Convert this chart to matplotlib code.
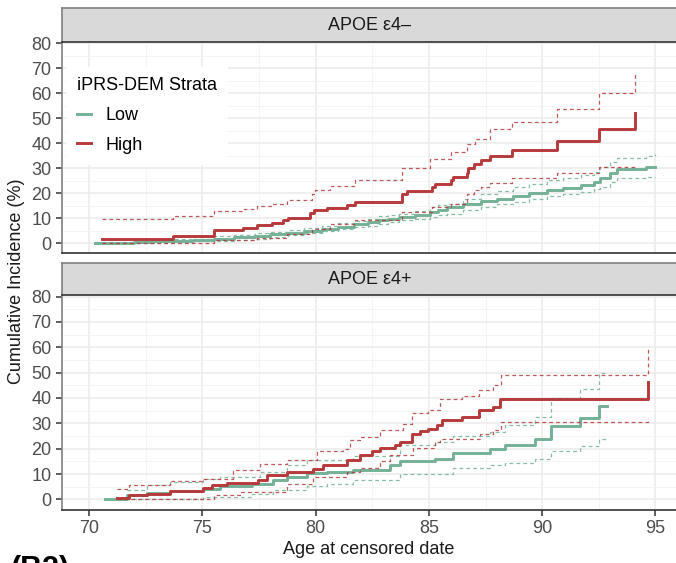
import matplotlib
matplotlib.use("Agg")
import matplotlib.pyplot as plt
from matplotlib.ticker import MultipleLocator

plt.rcParams['font.family'] = ['Liberation Sans', 'DejaVu Sans']

# ---- data: APOE e4- panel ----
top_low_age = [70.26, 71.0, 72.0, 72.8, 73.7, 74.6, 75.5, 76.4, 77.3, 78.0, 78.8, 79.5,
               80.3, 81.0, 81.7, 82.3, 82.8, 83.2, 83.7, 84.4, 85.05, 85.4, 85.8, 86.5,
               87.3, 88.0, 88.7, 89.4, 90.2, 90.9, 91.7, 92.3, 92.55, 93.0, 93.3, 94.6, 95.0]
top_low = [0, 0.2, 0.5, 0.7, 1.0, 1.4, 1.8, 2.3, 2.8, 3.5, 4.2, 5.0,
           5.8, 6.6, 7.5, 8.3, 9.1, 9.7, 10.4, 11.3, 12.5, 13.4, 14.5, 15.5,
           16.7, 17.6, 18.8, 19.9, 21.2, 22.2, 23.2, 24.5, 25.9, 27.9, 29.6, 30.5, 30.5]
top_low_hi = [0.3, 0.6, 1.0, 1.4, 1.8, 2.3, 2.8, 3.3, 3.9, 4.6, 5.3, 6.1,
              7.0, 7.9, 8.8, 9.8, 10.7, 11.2, 11.8, 13.0, 14.5, 15.1, 15.8, 17.7,
              19.8, 21.0, 22.5, 23.8, 25.2, 26.0, 27.2, 28.5, 30.5, 32.5, 33.9, 35.0, 35.5]
top_low_lo = [0, 0, 0.1, 0.2, 0.4, 0.7, 1.0, 1.4, 1.8, 2.5, 3.2, 4.0,
              4.8, 5.5, 6.3, 7.0, 7.8, 8.4, 9.1, 9.7, 10.4, 11.1, 11.8, 13.1,
              14.5, 15.5, 16.5, 17.6, 18.8, 19.5, 20.5, 21.5, 22.5, 24.5, 25.9, 26.3, 26.3]

top_high_age = [70.56, 73.72, 75.52, 76.81, 77.4, 78.06, 78.57, 78.8, 79.75, 79.93, 80.49,
                81.37, 81.74, 83.8, 84.02, 85.12, 85.27, 85.96, 86.08, 86.7, 86.74, 87.0,
                87.29, 87.7, 88.68, 90.67, 92.52, 94.1]
top_high = [1.5, 2.8, 5.1, 6.2, 7.1, 8.0, 9.1, 10.0, 12.0, 13.1, 14.2,
            15.4, 16.5, 19.6, 20.9, 22.5, 23.8, 25.2, 26.5, 28.1, 29.9, 31.5,
            33.2, 34.9, 37.2, 41.0, 45.9, 52.0]
top_high_hi_age = [70.56, 73.72, 75.52, 76.81, 77.4, 78.06, 78.72, 79.83, 79.97, 80.64, 81.74,
                   83.8, 85.05, 85.96, 86.7, 87.03, 87.7, 88.68, 90.67, 92.52, 94.1]
top_high_hi = [9.7, 10.7, 12.9, 13.8, 14.7, 15.8, 17.4, 19.8, 21.4, 22.8, 25.2,
               29.9, 33.5, 36.6, 39.9, 41.9, 45.9, 48.6, 53.6, 60.2, 67.6]
top_high_lo_age = [70.56, 75.52, 77.4, 78.72, 79.83, 80.64, 81.74, 83.8, 85.12, 85.96, 86.7,
                   87.0, 87.29, 87.7, 88.68, 90.67, 92.52, 94.1]
top_high_lo = [0, 1.1, 2.0, 3.8, 5.8, 7.8, 9.1, 12.5, 14.5, 15.8, 19.8,
               21.2, 22.5, 24.1, 25.9, 28.1, 30.5, 30.5]

# ---- data: APOE e4+ panel ----
bot_low_age = [70.71, 71.66, 72.55, 73.57, 75.04, 75.78, 77.18, 78.13, 78.72, 79.6, 80.49,
               81.66, 83.27, 83.72, 85.27, 86.08, 87.7, 88.36, 89.68, 90.37, 91.67, 92.51, 92.85]
bot_low = [0, 1.6, 2.5, 3.3, 4.2, 5.1, 6.2, 7.5, 8.8, 10.2, 10.8,
           11.7, 13.4, 15.1, 16.1, 18.3, 19.8, 21.6, 23.7, 29.0, 32.1, 36.8, 36.8]
bot_low_hi_age = [71.66, 72.55, 73.57, 75.04, 75.78, 77.55, 78.72, 79.6, 81.66, 83.72, 85.27,
                  86.08, 87.7, 88.36, 89.68, 90.37, 91.67, 92.51, 92.85]
bot_low_hi = [3.6, 5.5, 6.8, 7.9, 8.8, 10.8, 13.4, 15.4, 17.0, 21.3, 22.6,
              24.9, 26.6, 29.2, 32.3, 39.8, 43.4, 49.7, 49.7]
bot_low_lo_age = [70.71, 75.04, 77.18, 78.13, 79.6, 80.49, 81.66, 82.84, 83.72, 86.08, 87.7,
                  88.36, 89.68, 90.37, 91.67, 92.51, 92.85]
bot_low_lo = [0, 0.9, 2.3, 3.6, 5.1, 5.9, 7.5, 7.8, 10.1, 12.5, 13.6,
              14.3, 16.1, 19.1, 20.9, 23.7, 23.7]

bot_high_age = [71.25, 71.74, 72.55, 73.57, 75.04, 75.41, 76.08, 77.47, 77.84, 78.72, 79.9,
                80.34, 81.37, 81.96, 82.47, 82.84, 83.5, 83.72, 84.24, 84.61, 84.98, 85.34,
                85.56, 86.45, 87.22, 87.84, 88.14, 94.68]
bot_high = [0.7, 1.6, 2.3, 3.3, 4.6, 5.5, 6.4, 7.8, 9.5, 10.8, 12.1,
            13.4, 15.4, 17.4, 19.1, 20.4, 21.6, 22.6, 25.7, 27.0, 27.9, 29.2,
            31.2, 32.3, 35.2, 36.5, 39.4, 46.4]
bot_high_hi_age = [71.25, 71.74, 73.57, 75.04, 76.37, 77.55, 78.72, 80.05, 81.22, 81.52, 81.96,
                   82.84, 83.87, 84.24, 84.98, 85.49, 86.45, 87.22, 87.84, 88.17, 94.68]
bot_high_hi = [4.2, 5.5, 7.1, 8.2, 11.5, 14.1, 15.4, 19.0, 19.8, 23.3, 24.6,
               27.5, 29.9, 33.9, 35.4, 39.4, 40.7, 43.1, 45.1, 49.0, 59.6]
bot_high_lo_age = [71.25, 75.5, 76.7, 78.72, 79.9, 81.37, 81.96, 82.84, 83.27, 84.31, 85.27,
                   85.49, 87.25, 87.84, 88.17, 94.68]
bot_high_lo = [0, 1.6, 3.0, 6.2, 8.8, 10.8, 12.5, 15.1, 17.4, 20.4, 22.6,
               23.7, 25.9, 27.5, 30.6, 31.9]

strata = ['Low', 'High']
panel_titles = ['APOE \u03b54\u2013', 'APOE \u03b54+']

green = '#74B196'
red = '#B6393B'

W, H = 676, 563
fig = plt.figure(figsize=(W / 100, H / 100), dpi=100)


def fy(py):
    return 1 - py / H


def make_panel(top_px, bot_px, strip_top_px, title):
    left = 62 / W
    ax = fig.add_axes([left, fy(bot_px), 1.003 - left, fy(top_px) - fy(bot_px)])
    sax = fig.add_axes([left, fy(top_px), 1.003 - left, fy(strip_top_px) - fy(top_px)])
    sax.set_facecolor('#D9D9D9')
    sax.set_xticks([])
    sax.set_yticks([])
    for s in sax.spines.values():
        s.set_color('#808080')
        s.set_linewidth(1.2)
    sax.spines['bottom'].set_color('#333333')
    sax.text(0.5, 0.5, title, ha='center', va='center', fontsize=13, color='#1A1A1A',
             transform=sax.transAxes)

    ax.set_xlim(68.8, 96.0)
    ax.set_ylim(-4, 80.6)
    ax.xaxis.set_major_locator(MultipleLocator(5))
    ax.xaxis.set_minor_locator(MultipleLocator(2.5))
    ax.yaxis.set_major_locator(MultipleLocator(10))
    ax.yaxis.set_minor_locator(MultipleLocator(5))
    ax.grid(which='major', color='#EBEBEB', linewidth=1.1)
    ax.grid(which='minor', color='#F2F2F2', linewidth=0.6)
    ax.set_axisbelow(True)
    for s in ['top', 'right']:
        ax.spines[s].set_visible(False)
    ax.spines['left'].set_color('#808080')
    ax.spines['left'].set_linewidth(1.2)
    ax.spines['bottom'].set_color('#333333')
    ax.spines['bottom'].set_linewidth(1.2)
    ax.tick_params(which='major', length=4, width=1.1, color='#333333',
                   labelsize=13, labelcolor='#4D4D4D')
    ax.tick_params(which='minor', length=0)
    return ax


ax1 = make_panel(42, 253, 8, panel_titles[0])
ax2 = make_panel(295, 509.5, 263, panel_titles[1])
ax1.tick_params(axis='x', which='both', labelbottom=False, length=0)


def draw(ax, age, val, age_lo, lo, age_hi, hi, color, label):
    ax.step(age_lo, lo, where='post', color=color, lw=0.9, ls=(0, (3, 2.5)), alpha=0.85)
    ax.step(age_hi, hi, where='post', color=color, lw=0.9, ls=(0, (3, 2.5)), alpha=0.85)
    ax.step(age, val, where='post', color=color, lw=2.1, label=label)


draw(ax1, top_low_age, top_low, top_low_age, top_low_lo, top_low_age, top_low_hi, green, strata[0])
draw(ax1, top_high_age, top_high, top_high_lo_age, top_high_lo, top_high_hi_age, top_high_hi, red, strata[1])
draw(ax2, bot_low_age, bot_low, bot_low_lo_age, bot_low_lo, bot_low_hi_age, bot_low_hi, green, strata[0])
draw(ax2, bot_high_age, bot_high, bot_high_lo_age, bot_high_lo, bot_high_hi_age, bot_high_hi, red, strata[1])

leg = ax1.legend(loc='upper left', bbox_to_anchor=(0.0, 0.905), title='iPRS-DEM Strata',
                 fontsize=13, title_fontsize=13, frameon=True, fancybox=False,
                 edgecolor='white', facecolor='white', framealpha=1,
                 handlelength=0.75, handletextpad=0.8, labelspacing=0.7,
                 borderpad=0.55, borderaxespad=0.3, alignment='left')
for ln in leg.get_lines():
    ln.set_linewidth(2.1)

fig.text(17 / W, fy(281), 'Cumulative Incidence (%)', rotation=90, ha='center', va='center',
         fontsize=13, color='#1A1A1A')
fig.text(369 / W, fy(549), 'Age at censored date', ha='center', va='center',
         fontsize=13, color='#1A1A1A')
fig.text(10 / W, fy(555), '(B2)', ha='left', va='top', fontsize=22, fontweight='bold',
         color='black')

fig.savefig('out.png', dpi=100)
